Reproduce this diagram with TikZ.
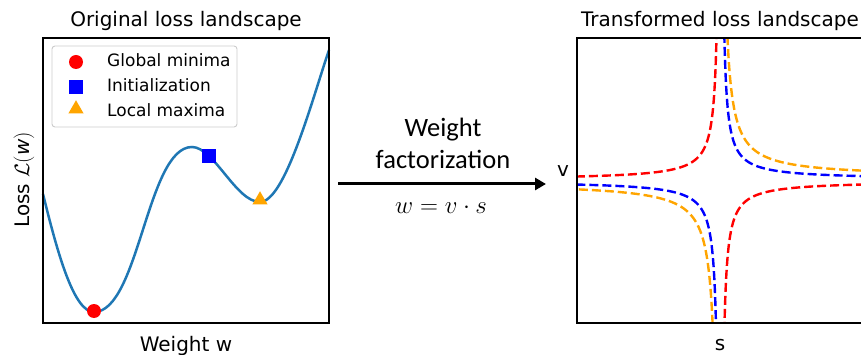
\documentclass[tikz,border=0pt]{standalone}
\usepackage{fontspec}
\setmainfont{DejaVu Sans}
\newfontfamily\calib{Carlito}
\usetikzlibrary{arrows.meta,shapes.geometric}
\definecolor{tabblue}{HTML}{1F77B4}
\definecolor{mplorange}{HTML}{FFA500}
\definecolor{legframe}{HTML}{CCCCCC}
\tikzset{
  frame/.style={draw=black, line width=1.3pt},
  ttl/.style={font=\fontsize{20}{22}\selectfont, anchor=base, inner sep=0pt},
  legtxt/.style={font=\fontsize{17}{19}\selectfont, anchor=base west, inner sep=0pt},
  hyp/.style={line width=2.4pt, dash pattern=on 9pt off 4pt, samples=120, domain=-2.2:2.2, variable=\t},
  calibtxt/.style={font=\calib\fontsize{26.5}{28}\selectfont, anchor=base, inner sep=0pt},
  tri/.style={regular polygon, regular polygon sides=3, fill=mplorange, inner sep=0pt, minimum size=17.5pt},
  dot/.style={circle, fill=red, inner sep=0pt, minimum size=14pt},
  sq/.style={rectangle, fill=blue, inner sep=0pt, minimum size=13.5pt},
}
\begin{document}
\begin{tikzpicture}[x=1pt, y=-1pt]
\useasboundingbox (0,0) rectangle (861,355);

% ---------- left panel ----------
\node[ttl] (t1) at (186,27) {Original loss landscape};
\node[ttl] (xl1) at (186,351) {Weight w};
\node[ttl, rotate=90] (yl1) at (29,180) {Loss $\mathcal{L}(\textit{w})$};

\draw[tabblue, line width=2.5pt]
  (43,194) .. controls (58,255) and (74,312) .. (94,312)
  .. controls (139,312) and (147,147) .. (192,147)
  .. controls (214,147) and (236,202) .. (260,202)
  .. controls (285,202) and (312,100) .. (329,50);

\node[dot] (gmin) at (94,311) {};
\node[sq] (init) at (209,156) {};
\node[tri] (lmax) at (260,200) {};

\draw[frame] (43,38) rectangle (329,323);

% legend
\draw[legframe, fill=white, fill opacity=0.8, rounded corners=3pt, line width=0.9pt] (52,46) rectangle (237,127);
\node[dot] (lg1) at (76,62) {};
\node[sq] (lg2) at (76,87) {};
\node[tri] (lg3) at (76,109) {};
\node[legtxt] (lt1) at (107,67) {Global minima};
\node[legtxt] (lt2) at (107,92) {Initialization};
\node[legtxt] (lt3) at (107,117) {Local maxima};

% ---------- middle arrow ----------
\coordinate (ar1) at (338,184);
\coordinate (ar2) at (546,184);
\draw[line width=3pt, -{Triangle[length=11pt, width=12pt]}] (ar1) -- (ar2);
\node[calibtxt] (w1) at (443,137) {Weight};
\node[calibtxt] (w2) at (443,169) {factorization};
\node[anchor=base, inner sep=0pt, font=\fontsize{32}{34}\selectfont] (eq) at (441,214) {$w = v\cdot s$};

% ---------- right panel ----------
\node[ttl] (t2) at (720,27) {Transformed loss landscape};
\node[ttl] (xl2) at (720,350) {s};
\node[ttl] (yl2) at (563,177) {v};

\begin{scope}
\clip (577,38) rectangle (865,323);
\draw[red, hyp] plot ({720-22.36*exp(\t)}, {180-22.36*exp(-\t)});
\draw[red, hyp] plot ({721+22.36*exp(\t)}, {181+22.36*exp(-\t)});
\draw[blue, hyp] plot ({721+21.9*exp(\t)}, {179.5-21.9*exp(-\t)});
\draw[blue, hyp] plot ({719.5-22.5*exp(\t)}, {181+22.5*exp(-\t)});
\draw[mplorange, hyp] plot ({721+30*exp(\t)}, {177-30*exp(-\t)});
\draw[mplorange, hyp] plot ({719-30*exp(\t)}, {183+30*exp(-\t)});
\end{scope}
\draw[frame] (577,38) rectangle (865,323);
\end{tikzpicture}
\end{document}
